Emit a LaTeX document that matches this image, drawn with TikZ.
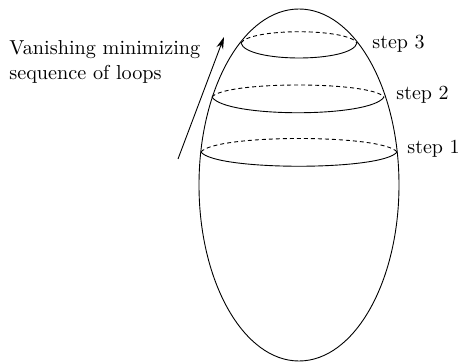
\documentclass[tikz,border=0pt]{standalone}
\usetikzlibrary{arrows.meta, positioning, shapes.geometric}
\tikzset{
  loopsolid/.style={black, line width=0.45pt},
  loopdash/.style={black, line width=0.45pt, dash pattern=on 2pt off 1.5pt},
  steplabel/.style={inner sep=0pt},
}
\begin{document}
\begin{tikzpicture}[x=0.5pt, y=-0.5pt]
    \useasboundingbox (0,0) rectangle (462,363);
    % surface
    \node[draw, ellipse, minimum width=100pt, minimum height=176pt, inner sep=0pt, line width=0.45pt] (surf) at (299,185) {};
    % loops
    \draw[loopsolid] (241,43) .. controls (246,63) and (352,63) .. (357,43);
    \draw[loopdash] (241,43) .. controls (250,28) and (348,28) .. (357,43);
    \draw[loopsolid] (212,97) .. controls (225,118) and (371,118) .. (384,97);
    \draw[loopdash] (212,97) .. controls (225,81) and (371,81) .. (384,97);
    \draw[loopsolid] (201,152) .. controls (215,171) and (383,171) .. (397,152);
    \draw[loopdash] (201,152) .. controls (215,134) and (383,134) .. (397,152);
    % labels
    \node[steplabel, anchor=base west] (s3) at (372,49) {step 3};
    \node[steplabel, anchor=base west] (s2) at (396,100) {step 2};
    \node[steplabel, anchor=base west] (s1) at (407,154) {step 1};
    \node[steplabel, anchor=base west, font=\fontsize{10.1}{12}\selectfont] (txt1) at (9,55) {Vanishing minimizing};
    \node[steplabel, anchor=base west, font=\fontsize{10.1}{12}\selectfont] (txt2) at (9,80) {sequence of loops};
    \coordinate (a1) at (178,159);
    \coordinate (a2) at (224,37);
    \draw[-{Stealth[length=6pt, width=3.5pt]}, line width=0.45pt] (a1) -- (a2);
\end{tikzpicture}
\end{document}
